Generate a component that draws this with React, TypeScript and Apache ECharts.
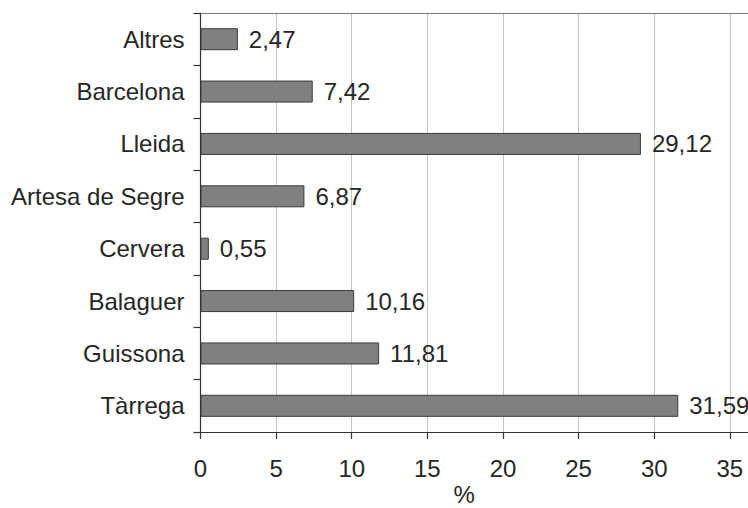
import React, { useEffect, useRef } from "react";
import * as echarts from "echarts";

const categories = ["Altres", "Barcelona", "Lleida", "Artesa de Segre", "Cervera", "Balaguer", "Guissona", "Tàrrega"];
const values = [2.47, 7.42, 29.12, 6.87, 0.55, 10.16, 11.81, 31.59];
const axisName = "%";

const FONT = "'Liberation Sans', Arial, Helvetica, sans-serif";
const TXT = "#262626";
const FS = 24;

export default function App() {
  const ref = useRef<HTMLDivElement>(null);
  useEffect(() => {
    if (!ref.current) return;
    const chart = echarts.init(ref.current, null, { renderer: "svg" });
    chart.setOption({
      animation: false,
      backgroundColor: "#ffffff",
      textStyle: { fontFamily: FONT },
      grid: { left: 200.5, right: 0, top: 13, bottom: 76, containLabel: false, outerBoundsMode: "none" },
      xAxis: [
        {
          type: "value",
          min: 0,
          max: 36.2,
          interval: 5,
          position: "bottom",
          name: axisName,
          nameLocation: "middle",
          nameGap: 51,
          nameMoveOverlap: false,
          nameTextStyle: { fontSize: FS, lineHeight: 22, color: TXT, fontFamily: FONT, padding: [0, 20, 0, 0] },
          axisLine: { show: true, lineStyle: { color: "#333333", width: 1.2 } },
          axisTick: { show: true, length: 7, lineStyle: { color: "#333333", width: 1.2 } },
          axisLabel: {
            fontSize: FS,
            color: TXT,
            fontFamily: FONT,
            margin: 24,
            showMaxLabel: false,
            formatter: (v: number) => (v % 5 === 0 ? String(v) : ""),
          },
          splitLine: { show: true, lineStyle: { color: "#c4c4c4", width: 1 } },
        },
        {
          type: "value",
          min: 0,
          max: 36.2,
          interval: 5,
          position: "top",
          axisLine: { show: true, onZero: false, lineStyle: { color: "#777777", width: 1.2 } },
          axisTick: { show: false },
          axisLabel: { show: false },
          splitLine: { show: false },
        },
      ],
      yAxis: {
        type: "category",
        data: categories,
        inverse: true,
        axisLine: { show: true, lineStyle: { color: "#333333", width: 1.2 } },
        axisTick: { show: true, length: 7, alignWithLabel: false, lineStyle: { color: "#333333", width: 1.2 } },
        axisLabel: { fontSize: FS, color: TXT, fontFamily: FONT, margin: 16 },
        splitLine: { show: false },
      },
      series: [
        {
          type: "bar",
          xAxisIndex: 0,
          data: values,
          barWidth: 22,
          itemStyle: { color: "#808080", borderColor: "#3a3a3a", borderWidth: 1 },
          label: {
            show: true,
            position: "right",
            distance: 11,
            fontSize: FS,
            color: TXT,
            fontFamily: FONT,
            formatter: (p: any) => Number(p.value).toFixed(2).replace(".", ","),
          },
        },
      ],
    });
    return () => chart.dispose();
  }, []);
  return (
    <div
      ref={ref}
      style={{ position: "fixed", left: 0, top: 0, width: 748, height: 508 }}
    />
  );
}
